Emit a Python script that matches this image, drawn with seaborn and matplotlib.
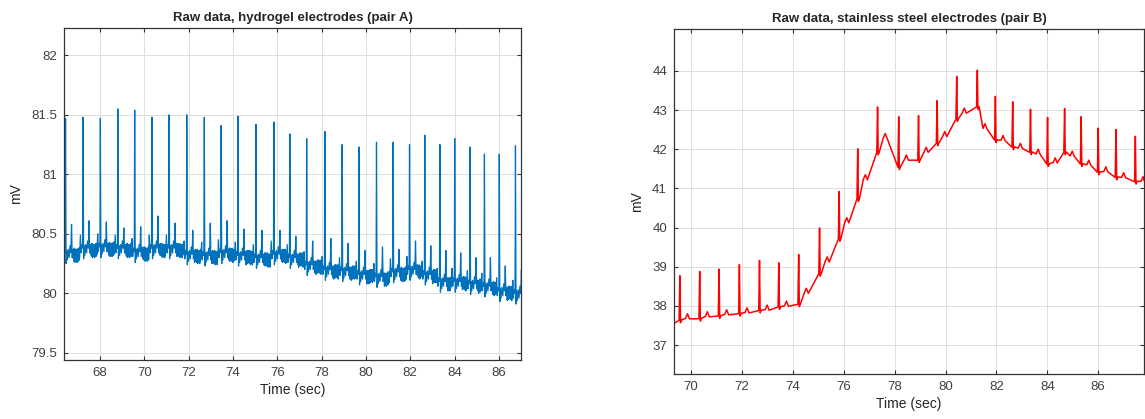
import numpy as np
import pandas as pd
import matplotlib
matplotlib.use("Agg")
import matplotlib.pyplot as plt
import matplotlib.ticker as mticker
import seaborn as sns

# ---- pair A (hydrogel) ----
a_beats = [66.45, 67.24, 68.02, 68.81, 69.57, 70.35, 71.12, 71.92, 72.71, 73.47,
           74.23, 75.04, 75.85, 76.57, 77.33, 78.15, 78.93, 79.69, 80.48, 81.23,
           81.97, 82.66, 83.34, 84.01, 84.70, 85.35, 86.02, 86.75]
a_base = [80.32, 80.36, 80.37, 80.36, 80.33, 80.36, 80.36, 80.31, 80.30, 80.32,
          80.30, 80.28, 80.31, 80.28, 80.22, 80.18, 80.17, 80.14, 80.12, 80.16,
          80.18, 80.14, 80.08, 80.08, 80.06, 80.04, 80.00, 79.98]
a_rpeak = [81.47, 81.48, 81.47, 81.55, 81.54, 81.48, 81.50, 81.50, 81.48, 81.41,
           81.49, 81.42, 81.44, 81.34, 81.30, 81.36, 81.25, 81.23, 81.27, 81.27,
           81.25, 81.33, 81.25, 81.30, 81.23, 81.17, 81.17, 81.24]
a_twave = [80.58, 80.61, 80.60, 80.55, 80.56, 80.65, 80.59, 80.53, 80.59, 80.61,
           80.54, 80.53, 80.53, 80.48, 80.44, 80.46, 80.42, 80.36, 80.39, 80.37,
           80.44, 80.40, 80.36, 80.34, 80.30, 80.30, 80.23, 80.20]
a_end = (87.0, 80.03)
# hand-read jitter of the noisy baseline band (mV)
a_jitter = [0.04, -0.03, 0.05, -0.05, 0.02, -0.04, 0.06, -0.02, 0.03, -0.06,
            0.05, -0.01, 0.04, -0.05, 0.01, -0.03, 0.05, -0.04, 0.02, -0.06,
            0.03, 0.00, -0.04, 0.05, -0.02, 0.06, -0.05, 0.01, 0.04, -0.04,
            0.06, -0.03, 0.02]

# ---- pair B (stainless steel) ----
b_beats = [69.56, 70.34, 71.10, 71.90, 72.69, 73.45, 74.23, 75.05, 75.82, 76.55,
           77.33, 78.16, 78.94, 79.67, 80.44, 81.25, 81.96, 82.64, 83.34, 84.01,
           84.68, 85.33, 86.00, 86.70, 87.46]
b_base = [37.63, 37.67, 37.74, 37.80, 37.88, 37.97, 38.04, 38.82, 39.71, 40.73,
          41.92, 41.54, 41.72, 42.15, 42.77, 43.08, 42.23, 42.05, 41.92, 41.62,
          41.92, 41.62, 41.41, 41.28, 41.17]
b_rpeak = [38.77, 38.88, 38.94, 39.05, 39.16, 39.10, 39.31, 39.99, 40.92, 42.01,
           43.08, 42.83, 42.86, 43.24, 43.86, 44.02, 43.35, 43.21, 43.02, 42.81,
           43.04, 42.83, 42.54, 42.50, 42.33]
b_twave = [37.80, 37.85, 37.90, 37.95, 38.02, 38.12, 38.45, 39.25, 40.25, 41.35,
           42.40, 41.85, 42.05, 42.45, 43.05, 42.65, 42.35, 42.15, 42.00, 41.78,
           41.95, 41.72, 41.55, 41.40, 41.30]
b_start = (69.33, 37.55)
b_end = (87.8, 41.22)


def trace_a():
    ts, vs = [], []
    k = 0
    for i, t in enumerate(a_beats):
        b = a_base[i]
        tn = a_beats[i + 1] if i + 1 < len(a_beats) else a_end[0] + 0.14
        pts = [(t - 0.14, b + 0.04), (t - 0.12, b + 0.13), (t - 0.09, b - 0.02),
               (t - 0.06, b + 0.05), (t - 0.02, b + 0.02), (t, a_rpeak[i]),
               (t + 0.025, b - 0.07), (t + 0.05, b + 0.04), (t + 0.08, b - 0.04),
               (t + 0.12, b + 0.05), (t + 0.16, b - 0.02), (t + 0.2, b + 0.08),
               (t + 0.24, b + 0.02), (t + 0.27, a_twave[i]), (t + 0.3, b - 0.02),
               (t + 0.33, b + 0.05)]
        for x, y in pts:
            ts.append(x)
            vs.append(y)
        for x in np.arange(t + 0.35, tn - 0.15, 0.009):
            ts.append(x)
            vs.append(b + a_jitter[k % len(a_jitter)])
            k += 1
    ts.append(a_end[0])
    vs.append(a_end[1])
    return pd.DataFrame({"t": ts, "mV": vs})


def trace_b():
    ts, vs = [b_start[0]], [b_start[1]]
    for i, t in enumerate(b_beats):
        b = b_base[i]
        tw = b_twave[i]
        pts = [(t - 0.03, b), (t, b_rpeak[i]), (t + 0.025, b - 0.06),
               (t + 0.07, b + 0.01), (t + 0.22, tw - 0.12), (t + 0.3, tw),
               (t + 0.38, tw - 0.13)]
        for x, y in pts:
            ts.append(x)
            vs.append(y)
    ts.append(b_end[0])
    vs.append(b_end[1])
    return pd.DataFrame({"t": ts, "mV": vs})


df_a = trace_a()
df_b = trace_b()

sns.set_style("whitegrid")
plt.rcParams["font.family"] = ["Liberation Sans", "DejaVu Sans"]

fig = plt.figure(figsize=(11.45, 4.19), dpi=100)
ax1 = fig.add_axes([64 / 1145, 59 / 419, 457 / 1145, 332 / 419])
ax2 = fig.add_axes([674 / 1145, 45 / 419, 470 / 1145, 345 / 419])

sns.lineplot(data=df_a, x="t", y="mV", ax=ax1, color="#0072BD", lw=0.9,
             estimator=None, sort=False)
sns.lineplot(data=df_b, x="t", y="mV", ax=ax2, color="#FF0000", lw=1.1,
             estimator=None, sort=False)

ax1.set_xlim(66.38, 87.0)
ax1.set_ylim(79.44, 82.23)
ax1.set_xticks(np.arange(68, 87, 2))
ax1.set_yticks(np.arange(79.5, 82.01, 0.5))
ax1.set_title("Raw data, hydrogel electrodes (pair A)", fontsize=9.5,
              fontweight="bold", pad=5)

ax2.set_xlim(69.33, 87.8)
ax2.set_ylim(36.26, 45.07)
ax2.set_xticks(np.arange(70, 87, 2))
ax2.set_yticks(np.arange(37, 45, 1))
ax2.set_title("Raw data, stainless steel electrodes (pair B)", fontsize=9.5,
              fontweight="bold", pad=5)

for ax in (ax1, ax2):
    ax.yaxis.set_major_formatter(mticker.FormatStrFormatter("%g"))
    ax.set_xlabel("Time (sec)", fontsize=10, color="#262626", labelpad=3)
    ax.set_ylabel("mV", fontsize=10, color="#262626", labelpad=6)
    ax.grid(True, color="#dedede", lw=0.7)
    for s in ax.spines.values():
        s.set_visible(True)
        s.set_color("#333333")
        s.set_linewidth(0.9)
    ax.tick_params(direction="in", length=3, width=0.8, colors="#333333",
                   labelcolor="#404040", labelsize=9.5, top=True, right=True,
                   bottom=True, left=True, pad=5)

fig.savefig("out.png", dpi=100)
